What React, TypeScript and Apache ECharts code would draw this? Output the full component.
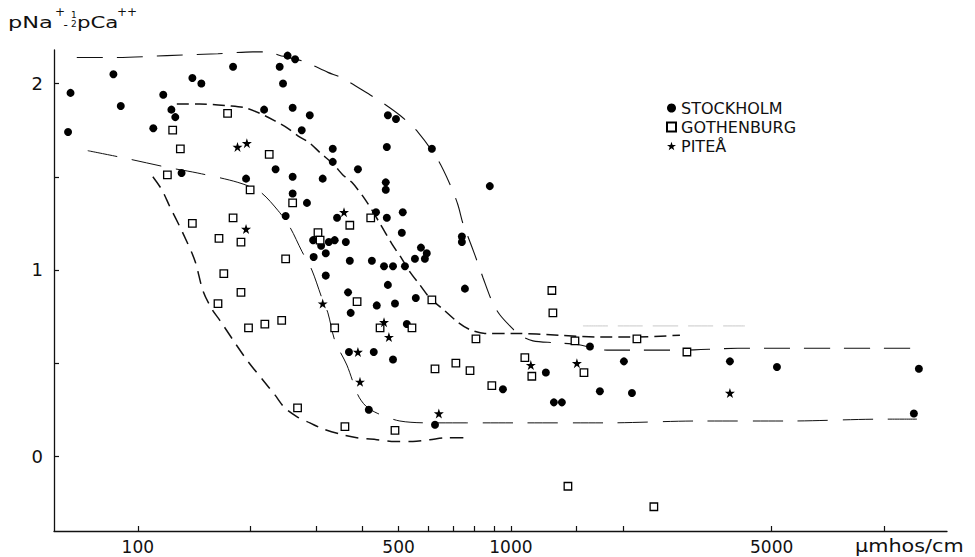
import React, { useEffect, useRef } from "react";
import * as echarts from "echarts";

// ---- data: [conductivity µmhos/cm, pNa+ - 1/2 pCa++] ----
const stockholm: [number, number][] = [
  [66, 1.95], [65, 1.74], [86, 2.05], [90, 1.88], [110, 1.76], [117, 1.94], [123, 1.86], [126, 1.82],
  [131, 1.52], [140, 2.03], [148, 2.0], [180, 2.09], [195, 1.49], [218, 1.86], [240, 2.09], [245, 2.0],
  [252, 2.15], [264, 2.13], [260, 1.87], [275, 1.75], [289, 1.83], [234, 1.54], [260, 1.5], [313, 1.49],
  [260, 1.41], [284, 1.36], [249, 1.29], [295, 1.16], [310, 1.13], [325, 1.15], [337, 1.16], [296, 1.07],
  [319, 1.09], [319, 0.97], [333, 1.65], [333, 1.58], [468, 1.83], [492, 1.81], [465, 1.66], [614, 1.65],
  [389, 1.54], [878, 1.45], [462, 1.47], [462, 1.43], [342, 1.28], [435, 1.31], [465, 1.28], [513, 1.31],
  [361, 1.15], [510, 1.2], [739, 1.18], [739, 1.15], [574, 1.12], [595, 1.09], [553, 1.06], [588, 1.06],
  [370, 1.05], [424, 1.05], [457, 1.02], [483, 1.02], [520, 1.02], [468, 0.92], [366, 0.88], [753, 0.9],
  [437, 0.81], [489, 0.82], [556, 0.85], [372, 0.77], [526, 0.71], [368, 0.56], [429, 0.56], [483, 0.52],
  [952, 0.36], [416, 0.25], [626, 0.17], [1241, 0.45], [1304, 0.29], [1370, 0.29], [1629, 0.59],
  [1732, 0.35], [2009, 0.51], [2111, 0.34], [3865, 0.51], [5166, 0.48], [12410, 0.47], [12030, 0.23],
];

const gothenburg: [number, number][] = [
  [174, 1.84], [124, 1.75], [130, 1.65], [120, 1.51], [225, 1.62], [200, 1.43], [260, 1.36], [140, 1.25],
  [180, 1.28], [165, 1.17], [189, 1.15], [249, 1.06], [170, 0.98], [304, 1.2], [308, 1.16], [189, 0.88],
  [164, 0.82], [198, 0.69], [219, 0.71], [243, 0.73], [268, 0.26], [370, 1.24], [421, 1.28], [387, 0.83],
  [614, 0.84], [337, 0.69], [446, 0.69], [543, 0.69], [806, 0.63], [626, 0.47], [712, 0.5], [777, 0.46],
  [889, 0.38], [359, 0.16], [489, 0.14], [1288, 0.89], [1296, 0.77], [1090, 0.53], [1138, 0.43],
  [1485, 0.62], [1570, 0.45], [1422, -0.16], [2177, 0.63], [2964, 0.56], [2417, -0.27],
];

const pitea: [number, number][] = [
  [185, 1.66], [196, 1.68], [195, 1.22], [313, 0.82], [357, 1.31], [457, 0.72], [471, 0.64],
  [389, 0.56], [394, 0.4], [641, 0.23], [1131, 0.49], [1503, 0.5], [3865, 0.34],
];

// hand-drawn envelope curves
const curveA: [number, number][] = [
  [68.6, 2.14], [88.4, 2.14], [119.6, 2.15], [163.9, 2.16], [203.4, 2.17], [223.1, 2.17], [240.3, 2.15],
  [277, 2.12], [323.2, 2.06], [352.4, 2.03], [418.8, 1.94], [451, 1.9], [504, 1.83], [563.4, 1.74],
  [637.5, 1.59], [686.4, 1.46], [721, 1.35], [743.6, 1.25], [767, 1.18], [801, 1.08], [841.5, 0.96],
  [895, 0.82], [934, 0.76], [994, 0.7], [1057, 0.65], [1146, 0.62], [1312, 0.61], [1503, 0.6],
  [1809, 0.57], [2177, 0.57], [2839, 0.57], [4062, 0.58], [5598, 0.58], [7389, 0.58], [9577, 0.58],
  [12260, 0.58],
];
const curveB: [number, number][] = [
  [127.2, 1.89], [146.6, 1.89], [176.5, 1.88], [193.6, 1.87], [212.4, 1.84], [233, 1.8], [252.4, 1.76],
  [268.5, 1.72], [289.2, 1.68], [307.6, 1.63], [333.3, 1.57], [354.5, 1.51], [374.8, 1.47], [406.1, 1.38],
  [445.6, 1.25], [479.7, 1.14], [510.3, 1.06], [536, 0.99], [570.2, 0.92], [606.5, 0.85], [657.3, 0.79],
  [721, 0.72], [776.5, 0.68], [851.8, 0.66], [1012, 0.66], [1353, 0.65], [1732, 0.64], [2084, 0.64],
  [2839, 0.65],
];
const curveC: [number, number][] = [
  [73.4, 1.64], [92.3, 1.6], [120.3, 1.55], [144.8, 1.52], [185.4, 1.47], [212.4, 1.42], [237.3, 1.32],
  [255.6, 1.23], [275.3, 1.1], [292.7, 1.0], [311.4, 0.85], [323.2, 0.77], [337.5, 0.62], [363.4, 0.49],
  [388.9, 0.33], [408.6, 0.27], [440, 0.23], [504, 0.19], [606.5, 0.18], [762, 0.18], [1038, 0.18],
  [1809, 0.18], [3172, 0.19], [5598, 0.19], [9938, 0.2], [12260, 0.2],
];
const curveD: [number, number][] = [
  [109.7, 1.5], [116, 1.43], [121.8, 1.34], [131.2, 1.21], [142.2, 1.05], [149.4, 0.89], [157.9, 0.79],
  [165.9, 0.73], [182, 0.61], [197.2, 0.51], [216.3, 0.41], [233, 0.33], [247.8, 0.26], [268.5, 0.21],
  [289.2, 0.18], [311.4, 0.15], [348, 0.12], [386.5, 0.1], [437.3, 0.09], [488.7, 0.08], [546, 0.08],
  [606.5, 0.09], [678, 0.1], [767, 0.1],
];
const faintLine: [number, number][] = [[1560, 0.7], [4240, 0.7]];

const xTickValues = [100, 200, 300, 400, 500, 600, 700, 800, 900, 1000, 1500, 2000, 5000, 10000];
const xLabelValues = [100, 500, 1000, 5000];
const yTickValues = [0, 0.5, 1, 1.5, 2];
const yLabelValues = [0, 1, 2];
const seriesNames = ["STOCKHOLM", "GOTHENBURG", "PITEÅ"];
const xUnit = "µmhos/cm";

const STAR =
  "path://M50,2 L61.8,37.6 L99,37.6 L69,59.6 L80.4,95 L50,73.2 L19.6,95 L31,59.6 L1,37.6 L38.2,37.6 Z";

const lg = (v: number) => Math.log10(v);
const toXY = (arr: [number, number][]) => arr.map(([x, y]) => [lg(x), y]);
const INK = "#111";
const FONT = "DejaVu Sans";

function curve(data: [number, number][], dash: number[], width: number, color = INK) {
  return {
    type: "line",
    data: toXY(data),
    smooth: 0.3,
    showSymbol: false,
    symbol: "none",
    silent: true,
    z: 1,
    lineStyle: { color, width, type: dash, opacity: 1 },
  };
}

export default function App() {
  const ref = useRef<HTMLDivElement>(null);
  useEffect(() => {
    if (!ref.current) return;
    const chart = echarts.init(ref.current, null, { renderer: "svg" });
    const titleStyle = (text: string, fontSize: number) => ({
      text,
      fill: INK,
      fontSize,
      fontFamily: FONT,
      textAlign: "left",
      textVerticalAlign: "middle",
    });
    const axisLine = {
      show: true,
      onZero: false,
      lineStyle: { color: INK, width: 1.3, type: "solid", opacity: 1 },
    };
    chart.setOption({
      animation: false,
      backgroundColor: "#fff",
      grid: { left: 54, right: 28, top: 50, bottom: 26, outerBoundsMode: "none", containLabel: false },
      xAxis: {
        type: "value",
        min: lg(59.6),
        max: lg(14760),
        axisLine,
        axisTick: {
          show: true,
          inside: true,
          length: 5,
          customValues: xTickValues.map(lg),
          lineStyle: { color: INK, width: 1.2 },
        },
        axisLabel: {
          customValues: xLabelValues.map(lg),
          formatter: (v: number) => String(Math.round(Math.pow(10, v))),
          fontSize: 17,
          fontFamily: FONT,
          color: INK,
          margin: 7,
        },
        splitLine: { show: false },
      },
      yAxis: {
        type: "value",
        min: -0.4,
        max: 2.18,
        axisLine,
        axisTick: {
          show: true,
          inside: true,
          length: 5,
          customValues: yTickValues,
          lineStyle: { color: INK, width: 1.2 },
        },
        axisLabel: {
          customValues: yLabelValues,
          formatter: (v: number) => String(v),
          fontSize: 18,
          fontFamily: FONT,
          color: INK,
          margin: 11,
        },
        splitLine: { show: false },
      },
      legend: {
        data: seriesNames,
        orient: "vertical",
        left: 666,
        top: 100,
        itemWidth: 9,
        itemHeight: 9,
        itemGap: 3,
        padding: 0,
        selectedMode: false,
        textStyle: { fontSize: 16, fontFamily: FONT, color: INK },
      },
      graphic: [
        { type: "text", x: 8, y: 23, scaleX: 1.5, style: titleStyle("pNa", 15) },
        { type: "text", x: 55, y: 12, style: titleStyle("+", 12) },
        { type: "text", x: 63.5, y: 25, style: titleStyle("-", 12) },
        { type: "text", x: 71, y: 14.5, style: titleStyle("1", 9) },
        { type: "text", x: 71, y: 23.5, style: titleStyle("2", 9) },
        { type: "text", x: 77, y: 23, scaleX: 1.42, style: titleStyle("pCa", 15) },
        { type: "text", x: 117, y: 12, style: titleStyle("++", 12) },
        { type: "text", x: 855, y: 546, scaleX: 1.22, style: titleStyle(xUnit, 17) },
      ],
      series: [
        curve(curveA, [26, 14], 1.1),
        curve(curveB, [12, 6], 1.5),
        curve(curveC, [30, 15], 1.0),
        curve(curveD, [13, 8], 1.5),
        curve(faintLine, [25, 10], 1.0, "#c8c8c8"),
        {
          name: seriesNames[0],
          type: "scatter",
          data: toXY(stockholm),
          symbol: "circle",
          symbolSize: 8,
          z: 3,
          itemStyle: { color: "#000", opacity: 1 },
        },
        {
          name: seriesNames[1],
          type: "scatter",
          data: toXY(gothenburg),
          symbol: "rect",
          symbolSize: 7.5,
          z: 4,
          itemStyle: { color: "#fff", borderColor: "#000", borderWidth: 1.3, opacity: 1 },
        },
        {
          name: seriesNames[2],
          type: "scatter",
          data: toXY(pitea),
          symbol: STAR,
          symbolSize: 10,
          z: 5,
          itemStyle: { color: "#000", opacity: 1 },
        },
      ],
    });
    return () => chart.dispose();
  }, []);
  return (
    <div
      ref={ref}
      style={{ position: "fixed", left: 0, top: 0, width: 975, height: 557, background: "#fff" }}
    />
  );
}
